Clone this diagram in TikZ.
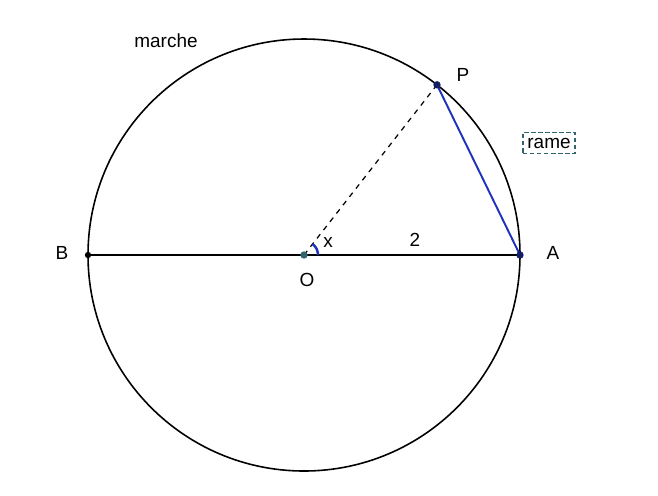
\documentclass[tikz,border=0pt]{standalone}
\usepackage{fontspec}
\setmainfont{Liberation Sans}
\usetikzlibrary{calc}
\usetikzlibrary{shapes,arrows,positioning}
\definecolor{chordblue}{RGB}{30,50,190}
\definecolor{dotblue}{RGB}{20,30,100}
\definecolor{boxteal}{RGB}{50,100,110}

\begin{document}
\begin{tikzpicture}[x=0.02cm,y=-0.02cm,font=\fontsize{10.8}{13}\selectfont,
    pt/.style={circle,fill=#1,inner sep=0pt,minimum size=4.2pt},
    lbl/.style={inner sep=1pt}]
    \useasboundingbox (0,0) rectangle (658,495);
    \coordinate (O) at (304,255);
    \coordinate (A) at (520,255);
    \coordinate (B) at (88,255);
    \coordinate (P) at ($(O)+(52:216 and -216)$);
    \draw[line width=0.9pt] (O) circle (216);
    \draw[line width=0.9pt] (B) -- (A);
    \draw[line width=0.7pt,dashed] (O) -- (P);
    \draw[chordblue,line width=1.1pt] (P) -- (A);
    \draw[chordblue,line width=1.4pt] ($(O)+(14,0)$) arc[start angle=0,end angle=-52,radius=14];
    \node[pt=dotblue] (Pd) at (P) {};
    \node[pt=dotblue] (Ad) at (A) {};
    \node[pt=black,minimum size=3.6pt] (Bd) at (B) {};
    \node[pt=boxteal] (Od) at (O) {};
    \node[lbl] (Pl) at (463,75) {P};
    \node[lbl] (Al) at (553,253) {A};
    \node[lbl] (Bl) at (62,253) {B};
    \node[lbl] (Ol) at (307,280) {O};
    \node[lbl] (xl) at (328,242) {x};
    \node[lbl] (rl) at (415,240) {2};
    \node[lbl] (marche) at (166,41) {marche};
    \node[draw=boxteal,line width=0.8pt,dash pattern=on 2.5pt off 1.5pt,inner xsep=2.5pt,inner ysep=3pt] (rame) at (549,143) {rame};
\end{tikzpicture}
\end{document}
